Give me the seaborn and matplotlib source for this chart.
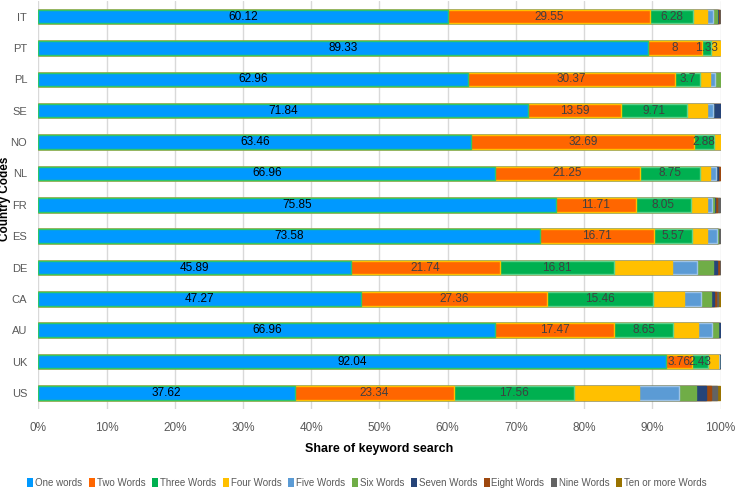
import numpy as np
import pandas as pd
import matplotlib
matplotlib.use("Agg")
import matplotlib.pyplot as plt
import seaborn as sns
from matplotlib.patches import Patch

countries = ['IT', 'PT', 'PL', 'SE', 'NO', 'NL', 'FR', 'ES', 'DE', 'CA', 'AU', 'UK', 'US']
series_names = ['One words', 'Two Words', 'Three Words', 'Four Words', 'Five Words',
                'Six Words', 'Seven Words', 'Eight Words', 'Nine Words', 'Ten or more Words']

one_words = [60.12, 89.33, 62.96, 71.84, 63.46, 66.96, 75.85, 73.58, 45.89, 47.27, 66.96, 92.04, 37.62]
two_words = [29.55, 8, 30.37, 13.59, 32.69, 21.25, 11.71, 16.71, 21.74, 27.36, 17.47, 3.76, 23.34]
three_words = [6.28, 1.33, 3.7, 9.71, 2.88, 8.75, 8.05, 5.57, 16.81, 15.46, 8.65, 2.43, 17.56]
four_words = [2.0, 1.33, 1.47, 2.88, 0.97, 1.56, 2.44, 2.1, 8.44, 4.49, 3.58, 1.37, 9.5]
five_words = [0.93, 0, 0.73, 0.93, 0, 0.88, 0.73, 1.51, 3.71, 2.63, 2.1, 0.15, 5.93]
six_words = [0.58, 0, 0.77, 0, 0, 0, 0.2, 0.2, 2.24, 1.37, 0.84, 0, 2.5]
seven_words = [0.15, 0, 0, 1.05, 0, 0.24, 0.2, 0, 0.73, 0.54, 0.34, 0.25, 1.37]
eight_words = [0.2, 0, 0, 0, 0, 0.24, 0.3, 0, 0.2, 0.24, 0, 0, 0.74]
nine_words = [0.1, 0, 0, 0, 0, 0, 0.5, 0.2, 0.24, 0.34, 0, 0, 0.93]
ten_words = [0.05, 0, 0, 0, 0, 0, 0, 0.1, 0, 0.3, 0, 0, 0.5]

all_series = [one_words, two_words, three_words, four_words, five_words,
              six_words, seven_words, eight_words, nine_words, ten_words]

colors = ['#0099FF', '#FF6600', '#00B050', '#FFC000', '#5B9BD5',
          '#70AD47', '#264478', '#9E480E', '#636363', '#997300']
edge_colors = ['#2DC66A', '#FFC000', '#5FD38C', '#FFC000', '#9DC3E6',
               '#70AD47', '#264478', '#9E480E', '#636363', '#997300']
xticks = list(range(0, 101, 10))

sns.set_theme(style="white")
plt.rcParams['font.family'] = ['Liberation Sans', 'DejaVu Sans']

fig = plt.figure(figsize=(7.36, 4.91), dpi=100)
ax = fig.add_axes([38.3 / 736, 1 - 408.6 / 491, (720.5 - 38.3) / 736, (408.6 - 1) / 491])

vals = np.array(all_series)
cums = np.cumsum(vals, axis=0)

# draw cumulative bars back to front (stacked effect)
for k in range(len(series_names) - 1, -1, -1):
    df = pd.DataFrame({'country': countries, 'value': cums[k]})
    sns.barplot(data=df, x='value', y='country', order=countries, orient='h',
                color=colors[k], edgecolor=edge_colors[k], linewidth=1.0,
                width=0.43, saturation=1, ax=ax, zorder=2)

# data labels for first three series
for k in range(3):
    for i, c in enumerate(countries):
        v = vals[k][i]
        center = cums[k][i] - v / 2
        ax.text(center, i, f"{v:g}", ha='center', va='center', fontsize=8.5,
                color='#000000' if k == 0 else '#404040', zorder=5)

ax.set_xlim(0, 100)
ax.set_ylim(len(countries) - 0.5, -0.5)
ax.set_xticks(xticks)
ax.set_xticklabels([f"{t}%" for t in xticks], fontsize=8.5, color='#595959')
ax.tick_params(axis='y', labelsize=8.0, labelcolor='#595959', length=0, pad=8)
ax.tick_params(axis='x', length=0, pad=10)
ax.xaxis.grid(True, color='#D9D9D9', linewidth=1, zorder=0)
ax.yaxis.grid(False)
for s in ax.spines.values():
    s.set_visible(False)
ax.set_axisbelow(True)
ax.set_xlabel('Share of keyword search', fontsize=9, fontweight='bold', color='#000000', labelpad=6)
ax.set_ylabel('Country Codes', fontsize=8.5, fontweight='bold', color='#000000')
ax.yaxis.set_label_coords(-27 / (720.5 - 38.3), 0.515)

handles = [Patch(facecolor=colors[k], edgecolor='none') for k in range(len(series_names))]
fig.legend(handles, series_names, loc='center', bbox_to_anchor=(367 / 736, 1 - 483 / 491),
           ncol=10, frameon=False, fontsize=7.0, handlelength=0.6, handleheight=1.0,
           handletextpad=0.2, columnspacing=0.7, labelcolor='#595959')

fig.savefig('out.png', dpi=100)
